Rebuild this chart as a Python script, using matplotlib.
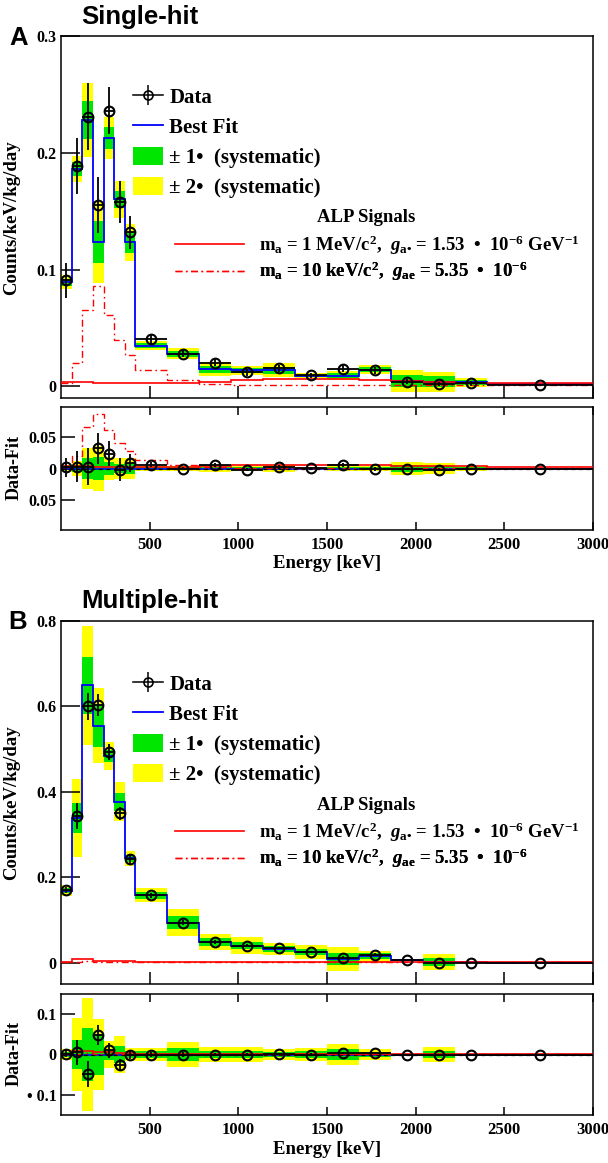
import numpy as np
import matplotlib
matplotlib.use("Agg")
import matplotlib.pyplot as plt
from matplotlib.lines import Line2D
from matplotlib.patches import Patch
from matplotlib.ticker import FixedLocator, FixedFormatter

plt.rcParams.update({
    "font.family": ["Liberation Serif", "DejaVu Serif"],
    "font.weight": "bold",
    "mathtext.fontset": "custom",
    "mathtext.rm": "Liberation Serif:bold",
    "mathtext.it": "Liberation Serif:italic:bold",
    "mathtext.bf": "Liberation Serif:bold",
    "axes.linewidth": 1.1,
})

# ---- binning (keV) ----
edges = np.array([0, 60, 120, 180, 240, 300, 360, 420, 600, 780, 960, 1140,
                  1320, 1500, 1680, 1860, 2040, 2220, 2400, 3000])

# ---- single-hit spectrum ----
single_data = [0.091, 0.189, 0.231, 0.155, 0.236, 0.158, 0.132, 0.0405, 0.028, 0.020,
               0.012, 0.0156, 0.0095, 0.015, 0.0136, 0.0041, 0.0021, 0.0027, 0.0013]
single_err = [0.015, 0.024, 0.029, 0.024, 0.020, 0.018, 0.014, 0.004, 0.003, 0.003,
              0.003, 0.003, 0.002, 0.003, 0.003, 0.002, 0.002, 0.002, 0.001]
single_fit = [0.089, 0.186, 0.228, 0.1234, 0.2124, 0.160, 0.1234, 0.0348, 0.028, 0.0148,
              0.0136, 0.0136, 0.009, 0.009, 0.0142, 0.0048, 0.004, 0.0033, 0.0019]
single_sys1 = [0.003, 0.006, 0.016, 0.018, 0.0095, 0.0076, 0.009, 0.002, 0.0025, 0.003,
               0.002, 0.003, 0.001, 0.002, 0.002, 0.005, 0.0045, 0.002, 0.0003]
single_sys2 = [0.006, 0.0114, 0.032, 0.035, 0.018, 0.016, 0.016, 0.004, 0.0047, 0.006,
               0.0036, 0.006, 0.002, 0.004, 0.004, 0.0096, 0.0085, 0.004, 0.0005]
single_alp_1mev = [0.0040, 0.0035, 0.0035, 0.0028, 0.0028, 0.0028, 0.0028, 0.0025, 0.0025, 0.0035,
                   0.0050, 0.0060, 0.0062, 0.0062, 0.0050, 0.0045, 0.0040, 0.0032, 0.0030]
single_alp_10kev = [0.003, 0.020, 0.0657, 0.0857, 0.0614, 0.040, 0.027, 0.0136, 0.0056, 0.0016,
                    0.0008, 0.0008, 0.0008, 0.0008, 0.0008, 0.0008, 0.0008, 0.0008, 0.0008]

# ---- multiple-hit spectrum ----
multi_data = [0.170, 0.343, 0.600, 0.603, 0.493, 0.350, 0.242, 0.158, 0.094, 0.048,
              0.040, 0.034, 0.025, 0.0117, 0.0188, 0.0054, 0.0, 0.0, 0.0]
multi_err = [0.008, 0.031, 0.032, 0.025, 0.018, 0.015, 0.010, 0.006, 0.005, 0.004,
             0.003, 0.003, 0.003, 0.003, 0.003, 0.002, 0.001, 0.001, 0.001]
multi_fit = [0.168, 0.338, 0.649, 0.555, 0.483, 0.377, 0.244, 0.158, 0.094, 0.048,
             0.040, 0.0325, 0.025, 0.0085, 0.0148, 0.0054, 0.0023, 0.0005, 0.0003]
multi_sys1 = [0.006, 0.035, 0.066, 0.050, 0.014, 0.021, 0.008, 0.008, 0.016, 0.009,
              0.009, 0.007, 0.008, 0.013, 0.007, 0.001, 0.009, 0.0005, 0.0003]
multi_sys2 = [0.013, 0.091, 0.139, 0.087, 0.033, 0.045, 0.017, 0.016, 0.031, 0.019,
              0.019, 0.014, 0.016, 0.027, 0.013, 0.002, 0.019, 0.001, 0.0005]
multi_alp_1mev = [0.002, 0.008, 0.008, 0.005, 0.005, 0.004, 0.004, 0.002, 0.0015, 0.0015,
                  0.0015, 0.0015, 0.0015, 0.0015, 0.0015, 0.0015, 0.0015, 0.0015, 0.0015]
multi_alp_10kev = [0.001, 0.002, 0.003, 0.002, 0.0015, 0.001, 0.001, 0.0005, 0.0005, 0.0005,
                   0.0005, 0.0005, 0.0005, 0.0005, 0.0005, 0.0005, 0.0005, 0.0005, 0.0005]

x_ticks = [500, 1000, 1500, 2000, 2500, 3000]

YELLOW = "#ffff00"
GREEN = "#00e600"
BLUE = "#0000ff"
RED = "#ff0000"
DASHDOT = (0, (5, 2.5, 1.2, 2.5))

W, H = 608, 1163
fig = plt.figure(figsize=(W / 100, H / 100), dpi=100)


def rect(left, top, right, bottom):
    return [left / W, 1 - bottom / H, (right - left) / W, (bottom - top) / H]


def fx(px):
    return px / W


def fy(py):
    return 1 - py / H


widths = np.diff(edges)
centers = edges[:-1] + widths / 2


def draw_spectrum(ax, data, err, fit, s1, s2, sig_a, sig_b, residual=False):
    data = np.asarray(data)
    fit = np.asarray(fit)
    s1 = np.asarray(s1)
    s2 = np.asarray(s2)
    ref = np.zeros_like(fit) if residual else fit
    ax.bar(edges[:-1], 2 * s2, width=widths, bottom=ref - s2, align="edge",
           color=YELLOW, lw=0, zorder=1)
    ax.bar(edges[:-1], 2 * s1, width=widths, bottom=ref - s1, align="edge",
           color=GREEN, lw=0, zorder=1.5)
    if residual:
        ax.axhline(0, color=BLUE, lw=1.2, zorder=2)
        ax.axhline(0, color="k", lw=0.9, ls=(0, (3, 3)), zorder=2.1)
    else:
        ax.stairs(fit, edges, baseline=None, color=BLUE, lw=1.3, zorder=2)
    ax.stairs(sig_a, edges, baseline=None, color=RED, lw=1.2, zorder=3)
    ax.stairs(sig_b, edges, baseline=None, color=RED, lw=1.0, ls=DASHDOT, zorder=3)
    yvals = data - fit if residual else data
    ax.errorbar(centers, yvals, yerr=err, xerr=widths / 2, fmt="o", ms=7,
                mfc="none", mec="k", mew=1.5, ecolor="k", elinewidth=1.3,
                capsize=0, zorder=4)
    ax.set_xlim(0, 3000)
    ax.xaxis.set_major_locator(FixedLocator(x_ticks))
    for side in ("top", "right", "bottom", "left"):
        ax.spines[side].set_linewidth(1.1)


def style_main(ax, yticks, ylabels, ylim):
    ax.set_ylim(*ylim)
    ax.yaxis.set_major_locator(FixedLocator(yticks))
    ax.yaxis.set_major_formatter(FixedFormatter(ylabels))
    ax.tick_params(axis="y", direction="in", length=13.5, width=1.1, labelsize=11.5, pad=3)
    ax.tick_params(axis="x", direction="in", length=8.5, width=1.1, labelbottom=False)


def style_resid(ax, yticks, ylabels, ylim):
    ax.set_ylim(*ylim)
    ax.yaxis.set_major_locator(FixedLocator(yticks))
    ax.yaxis.set_major_formatter(FixedFormatter(ylabels))
    ax.tick_params(axis="y", direction="in", length=10, width=1.1, labelsize=11.5, pad=3)
    ax.tick_params(axis="x", direction="in", length=6, width=1.1, top=True,
                   labelsize=12, pad=5)


def add_legend(ax, row_py):
    data_handle = (
        Line2D([], [], color="k", lw=1.1),
        Line2D([], [], ls="none", marker="|", ms=14, mew=1.1, color="k"),
        Line2D([], [], ls="none", marker="o", ms=6.5, mfc="none", mec="k", mew=1.2),
    )
    handles = [data_handle,
               Line2D([], [], color=BLUE, lw=1.3),
               Patch(facecolor=GREEN, edgecolor="none"),
               Patch(facecolor=YELLOW, edgecolor="none")]
    labels = ["Data", "Best Fit", "± 1•  (systematic)", "± 2•  (systematic)"]
    for k, (h, lab) in enumerate(zip(handles, labels)):
        leg = ax.legend([h], [lab], loc="center left",
                        bbox_to_anchor=(fx(133), fy(row_py + 30.3 * k)),
                        bbox_transform=fig.transFigure, frameon=False, fontsize=15,
                        numpoints=1, handlelength=1.45, handleheight=0.95,
                        handletextpad=0.3, borderpad=0, borderaxespad=0)
        ax.add_artist(leg)

    fig.text(fx(366), fy(row_py + 121), "ALP Signals", ha="center", va="center",
             fontsize=13.5, fontweight="bold")
    sig_handles = [Line2D([], [], color=RED, lw=1.2),
                   Line2D([], [], color=RED, lw=1.0, ls=DASHDOT)]
    sig_labels = [r"$\mathrm{m_a}$ = 1 MeV/c$^{\mathrm{2}}$,  $g_{\mathrm{a•}}$ = 1.53  •  10$^{\mathrm{-6}}$ GeV$^{\mathrm{-1}}$",
                  r"$\mathrm{m_a}$ = 10 keV/c$^{\mathrm{2}}$,  $g_{\mathrm{ae}}$ = 5.35  •  10$^{\mathrm{-6}}$"]
    for k, (h, lab) in enumerate(zip(sig_handles, sig_labels)):
        leg = ax.legend([h], [lab], loc="center left",
                        bbox_to_anchor=(fx(175), fy(row_py + 148 + 26.5 * k)),
                        bbox_transform=fig.transFigure, frameon=False, fontsize=13.5,
                        handlelength=3.7, handleheight=0.7, handletextpad=0.8,
                        borderpad=0, borderaxespad=0)
        ax.add_artist(leg)


# ---- panel A: single-hit ----
axA = fig.add_axes(rect(61, 36, 593, 398))
draw_spectrum(axA, single_data, single_err, single_fit, single_sys1, single_sys2,
              single_alp_1mev, single_alp_10kev)
style_main(axA, [0, 0.1, 0.2, 0.3], ["0", "0.1", "0.2", "0.3"], (-0.01, 0.3))
add_legend(axA, 97)

rA = fig.add_axes(rect(61, 407, 593, 530))
draw_spectrum(rA, single_data, single_err, single_fit, single_sys1, single_sys2,
              single_alp_1mev, single_alp_10kev, residual=True)
style_resid(rA, [-0.05, 0, 0.05], ["0.05", "0", "0.05"], (-0.097, 0.097))

# ---- panel B: multiple-hit ----
axB = fig.add_axes(rect(61, 621, 593, 984))
draw_spectrum(axB, multi_data, multi_err, multi_fit, multi_sys1, multi_sys2,
              multi_alp_1mev, multi_alp_10kev)
style_main(axB, [0, 0.2, 0.4, 0.6, 0.8], ["0", "0.2", "0.4", "0.6", "0.8"], (-0.05, 0.8))
add_legend(axB, 684)

rB = fig.add_axes(rect(61, 994, 593, 1115))
draw_spectrum(rB, multi_data, multi_err, multi_fit, multi_sys1, multi_sys2,
              multi_alp_1mev, multi_alp_10kev, residual=True)
style_resid(rB, [-0.1, 0, 0.1], ["• 0.1", "0", "0.1"], (-0.15, 0.15))

# ---- titles and axis labels ----
sans = ["Liberation Sans", "DejaVu Sans"]
fig.text(fx(140), fy(17), "Single-hit", family=sans, fontsize=18.5, fontweight="bold",
         ha="center", va="center")
fig.text(fx(19), fy(38), "A", family=sans, fontsize=18.5, fontweight="bold",
         ha="center", va="center")
fig.text(fx(150), fy(601), "Multiple-hit", family=sans, fontsize=18.5, fontweight="bold",
         ha="center", va="center")
fig.text(fx(18), fy(622), "B", family=sans, fontsize=18.5, fontweight="bold",
         ha="center", va="center")

for yc in (218, 803):
    fig.text(fx(12), fy(yc), "Counts/keV/kg/day", rotation=90, fontsize=13.5,
             fontweight="bold", ha="center", va="center")
for yc in (468, 1054):
    fig.text(fx(14), fy(yc), "Data-Fit", rotation=90, fontsize=13,
             fontweight="bold", ha="center", va="center")
for yc in (563, 1149):
    fig.text(fx(327), fy(yc), "Energy [keV]", fontsize=13.5, fontweight="bold",
             ha="center", va="center")

fig.savefig("out.png", dpi=100)
